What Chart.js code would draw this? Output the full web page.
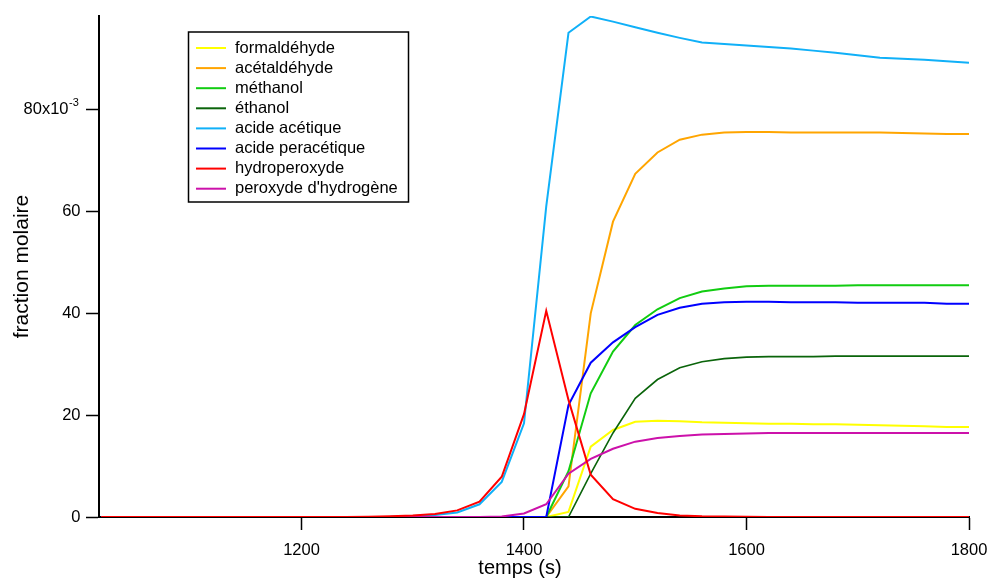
<!DOCTYPE html>
<html>
<head>
<meta charset="utf-8">
<script src="https://cdn.jsdelivr.net/npm/chart.js@4.4.1/dist/chart.umd.min.js"></script>
<style>
body { margin: 0; background: #fff; }
#chart { display: block; }
</style>
</head>
<body>
<canvas id="chart" width="989" height="578"></canvas>
<script>
// time in s, values in 10^-3 (molar fraction)
const temps = [1020, 1040, 1060, 1080, 1100, 1120, 1140, 1160, 1180, 1200,
    1220, 1240, 1260, 1280, 1300, 1320, 1340, 1360, 1380, 1400,
    1420, 1440, 1460, 1480, 1500, 1520, 1540, 1560, 1580, 1600,
    1620, 1640, 1660, 1680, 1700, 1720, 1740, 1760, 1780, 1800];

const formaldehyde = [0, 0, 0, 0, 0, 0, 0, 0, 0, 0,
    0, 0, 0, 0, 0, 0, 0, 0, 0, 0,
    0, 1.0, 13.8, 17.1, 18.7, 18.9, 18.8, 18.6, 18.5, 18.4,
    18.3, 18.3, 18.2, 18.2, 18.1, 18.0, 17.9, 17.8, 17.7, 17.7];
const acetaldehyde = [0, 0, 0, 0, 0, 0, 0, 0, 0, 0,
    0, 0, 0, 0, 0, 0, 0, 0, 0, 0,
    0, 6.0, 40.0, 58.0, 67.4, 71.6, 74.1, 75.1, 75.5, 75.6,
    75.6, 75.5, 75.5, 75.5, 75.5, 75.5, 75.4, 75.3, 75.2, 75.2];
const methanol = [0, 0, 0, 0, 0, 0, 0, 0, 0, 0,
    0, 0, 0, 0, 0, 0, 0, 0, 0, 0,
    0, 9.0, 24.3, 32.5, 37.7, 40.8, 43.0, 44.3, 44.9, 45.3,
    45.4, 45.4, 45.4, 45.4, 45.5, 45.5, 45.5, 45.5, 45.5, 45.5];
const ethanol = [0, 0, 0, 0, 0, 0, 0, 0, 0, 0,
    0, 0, 0, 0, 0, 0, 0, 0, 0, 0,
    0, 0, 8.5, 16.5, 23.3, 27.0, 29.3, 30.5, 31.1, 31.4,
    31.5, 31.5, 31.5, 31.6, 31.6, 31.6, 31.6, 31.6, 31.6, 31.6];
const acideAcetique = [0, 0, 0, 0, 0, 0, 0, 0, 0, 0,
    0, 0, 0, 0.05, 0.2, 0.4, 0.9, 2.5, 6.9, 18.4,
    61.0, 95.1, 98.3, 97.3, 96.2, 95.1, 94.1, 93.2, 92.9, 92.6,
    92.3, 92.0, 91.6, 91.2, 90.7, 90.2, 90.0, 89.8, 89.5, 89.2];
const acidePeracetique = [0, 0, 0, 0, 0, 0, 0, 0, 0, 0,
    0, 0, 0, 0, 0, 0, 0, 0, 0, 0,
    0, 22.0, 30.3, 34.3, 37.3, 39.7, 41.1, 41.9, 42.2, 42.3,
    42.3, 42.2, 42.2, 42.2, 42.1, 42.1, 42.1, 42.1, 41.9, 41.9];
const hydroperoxyde = [0, 0, 0, 0, 0, 0, 0, 0, 0, 0,
    0, 0, 0.05, 0.15, 0.3, 0.6, 1.3, 3.0, 7.9, 20.2,
    40.5, 23.0, 8.3, 3.5, 1.6, 0.8, 0.3, 0.15, 0.1, 0.05,
    0, 0, 0, 0, 0, 0, 0, 0, 0, 0];
const peroxydeHydrogene = [0, 0, 0, 0, 0, 0, 0, 0, 0, 0,
    0, 0, 0, 0, 0, 0, 0, 0, 0.1, 0.7,
    2.5, 8.5, 11.4, 13.4, 14.8, 15.5, 15.9, 16.2, 16.3, 16.4,
    16.5, 16.5, 16.5, 16.5, 16.5, 16.5, 16.5, 16.5, 16.5, 16.5];

const xTicks = [1200, 1400, 1600, 1800];
const yTicks = [0, 20, 40, 60, 80];

const FONT = "Arial, 'Liberation Sans', sans-serif";
Chart.defaults.font.family = FONT;
Chart.defaults.color = "#000";

function serie(label, data, color, order, width) {
    return {
        label: label,
        data: data.map((v, i) => ({ x: temps[i], y: v })),
        borderColor: color,
        backgroundColor: color,
        borderWidth: width || 2,
        fill: false,
        order: order
    };
}

// legend box drawn inside the plot, like the original
const boxLegend = {
    id: "boxLegend",
    afterDraw(chart) {
        const ctx = chart.ctx;
        ctx.save();
        ctx.strokeStyle = "#000";
        ctx.lineWidth = 1.5;
        ctx.strokeRect(188.5, 32, 220, 170);
        ctx.font = "16.5px " + FONT;
        ctx.textBaseline = "middle";
        ctx.fillStyle = "#000";
        chart.data.datasets.forEach((ds, i) => {
            const y = 48 + i * 20.1;
            ctx.strokeStyle = ds.borderColor;
            ctx.lineWidth = 2;
            ctx.beginPath();
            ctx.moveTo(196, y);
            ctx.lineTo(226, y);
            ctx.stroke();
            ctx.fillText(ds.label, 235, y);
        });
        ctx.restore();
    }
};

// y labels with the "x10^-3" exponent on the top one, and the x title
const axisText = {
    id: "axisText",
    afterDraw(chart) {
        const ctx = chart.ctx;
        const scale = chart.scales.y;
        ctx.save();
        ctx.fillStyle = "#000";
        ctx.textBaseline = "middle";
        yTicks.forEach(v => {
            const y = scale.getPixelForValue(v);
            if (v === 80) {
                ctx.font = "16.5px " + FONT;
                ctx.textAlign = "right";
                ctx.fillText("80x10", 68.5, y);
                ctx.font = "11px " + FONT;
                ctx.textAlign = "left";
                ctx.fillText("-3", 69, y - 7);
            } else {
                ctx.font = "16.5px " + FONT;
                ctx.textAlign = "right";
                ctx.fillText(String(v), 80.5, y);
            }
        });
        ctx.font = "20px " + FONT;
        ctx.textAlign = "center";
        ctx.fillText("temps (s)", 520, 568);
        ctx.restore();
    }
};

new Chart(document.getElementById("chart"), {
    type: "line",
    data: {
        datasets: [
            serie("formaldéhyde", formaldehyde, "#ffff00", 7),
            serie("acétaldéhyde", acetaldehyde, "#ffa500", 6),
            serie("méthanol", methanol, "#11cc11", 5),
            serie("éthanol", ethanol, "#0a640a", 4, 1.6),
            serie("acide acétique", acideAcetique, "#10b0f8", 3),
            serie("acide peracétique", acidePeracetique, "#0000ff", 2),
            serie("hydroperoxyde", hydroperoxyde, "#ff0000", 0),
            serie("peroxyde d'hydrogène", peroxydeHydrogene, "#cc11aa", 1)
        ]
    },
    options: {
        responsive: false,
        animation: false,
        layout: { padding: { top: 16, right: 20, left: 0, bottom: 0 } },
        elements: { point: { radius: 0 }, line: { tension: 0 } },
        plugins: {
            legend: { display: false },
            tooltip: { enabled: false }
        },
        scales: {
            x: {
                type: "linear",
                min: 1018,
                max: 1800,
                afterBuildTicks: s => { s.ticks = xTicks.map(v => ({ value: v })); },
                afterFit: s => { s.height = 61; s.paddingLeft = 0; s.paddingRight = 0; },
                grid: { drawOnChartArea: false, tickLength: 13, tickWidth: 1.5, tickColor: "#000" },
                border: { color: "#000", width: 2 },
                ticks: {
                    color: "#000",
                    font: { size: 16.5 },
                    padding: 11,
                    maxRotation: 0,
                    callback: v => String(v)
                }
            },
            y: {
                type: "linear",
                min: 0,
                max: 98.4,
                afterBuildTicks: s => { s.ticks = yTicks.map(v => ({ value: v })); },
                afterFit: s => { s.width = 99; },
                grid: { drawOnChartArea: false, tickLength: 13, tickWidth: 1.5, tickColor: "#000" },
                border: { color: "#000", width: 2 },
                ticks: { display: false },
                title: { display: true, text: "fraction molaire", color: "#000", font: { size: 21 }, padding: { top: 10, bottom: 0 } }
            }
        }
    },
    plugins: [boxLegend, axisText]
});
</script>
</body>
</html>
